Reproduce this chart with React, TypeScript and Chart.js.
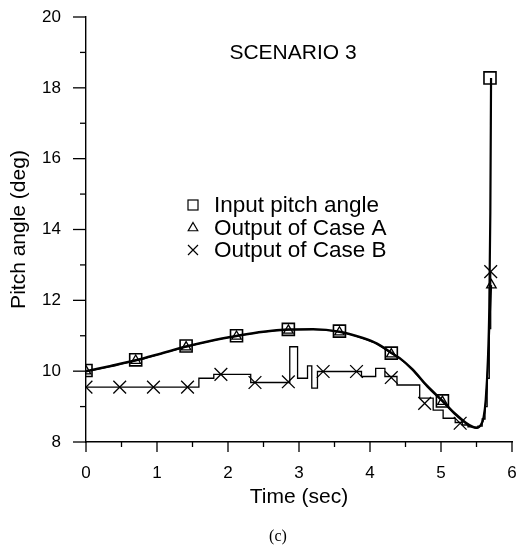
import React, { useEffect, useRef } from 'react';
import { Chart, registerables } from 'chart.js';

Chart.register(...registerables);

const SANS = '"Liberation Sans", Arial, Helvetica, sans-serif';
const SERIF = '"Liberation Serif", "Times New Roman", serif';

const chartTitle = 'SCENARIO 3';
const xAxisTitle = 'Time (sec)';
const yAxisTitle = 'Pitch angle (deg)';
const caption = '(c)';
const legendLabels = ['Input pitch angle', 'Output of Case A', 'Output of Case B'];

// Input pitch angle (smooth curve)
const inputTime = [0, 0.35, 0.7, 1.05, 1.41, 1.75, 2.12, 2.5, 2.85, 3.2, 3.57, 3.9, 4.1, 4.3, 4.42, 4.6, 4.8, 5.02, 5.2, 5.35, 5.45, 5.5, 5.56, 5.6, 5.63, 5.66, 5.68, 5.695, 5.705];
const inputValue = [10.0, 10.15, 10.31, 10.5, 10.7, 10.86, 11.0, 11.12, 11.18, 11.19, 11.12, 10.94, 10.78, 10.52, 10.37, 10.05, 9.6, 9.17, 8.8, 8.55, 8.43, 8.4, 8.48, 8.7, 9.2, 10.3, 11.8, 14.5, 18.28];

// Output of Case A (smooth curve)
const caseATime = [0, 0.35, 0.7, 1.05, 1.41, 1.75, 2.12, 2.5, 2.85, 3.2, 3.57, 3.9, 4.1, 4.3, 4.42, 4.6, 4.8, 5.02, 5.2, 5.35, 5.45, 5.5, 5.56, 5.6, 5.63, 5.66, 5.69, 5.71];
const caseAValue = [9.98, 10.13, 10.29, 10.48, 10.68, 10.84, 10.98, 11.1, 11.16, 11.17, 11.1, 10.92, 10.76, 10.5, 10.35, 10.03, 9.57, 9.14, 8.77, 8.52, 8.41, 8.39, 8.47, 8.66, 9.1, 10.1, 11.5, 12.43];

// Output of Case B (stepped)
const caseBTime = [0, 1.59, 1.8, 2.32, 2.87, 2.98, 3.12, 3.18, 3.26, 3.88, 4.08, 4.21, 4.38, 4.7, 4.89, 5.03, 5.2, 5.3, 5.38, 5.45, 5.52, 5.58, 5.62, 5.65, 5.68, 5.7];
const caseBValue = [9.55, 9.8, 9.91, 9.68, 10.69, 9.8, 10.15, 9.52, 9.99, 9.85, 10.08, 9.85, 9.61, 9.24, 8.9, 8.67, 8.55, 8.48, 8.43, 8.42, 8.45, 8.65, 9.0, 9.8, 11.2, 12.81];

// Markers
const inputMarkTime = [0, 0.7, 1.41, 2.12, 2.85, 3.57, 4.3, 5.02, 5.69];
const inputMarkValue = [10.02, 10.32, 10.71, 11.0, 11.18, 11.13, 10.51, 9.16, 18.28];
const caseAMarkTime = [0, 0.7, 1.41, 2.12, 2.85, 3.57, 4.3, 5.02, 5.71];
const caseAMarkValue = [10.0, 10.3, 10.68, 10.98, 11.15, 11.1, 10.48, 9.14, 12.43];
const caseBMarkTime = [0, 0.475, 0.95, 1.43, 1.9, 2.38, 2.85, 3.34, 3.81, 4.3, 4.77, 5.27, 5.7];
const caseBMarkValue = [9.55, 9.55, 9.55, 9.55, 9.91, 9.68, 9.7, 9.99, 9.99, 9.82, 9.09, 8.53, 12.81];

const xMin = 0, xMax = 6, xMajor = 1, xMinor = 0.5;
const yMin = 8, yMax = 20, yMajor = 2, yMinor = 1;

const pts = (t: number[], v: number[]) => t.map((x, i) => ({ x, y: v[i] }));

function drawSquare(ctx: CanvasRenderingContext2D, x: number, y: number, s: number) {
  ctx.strokeRect(x - s / 2, y - s / 2, s, s);
}
function drawTriangle(ctx: CanvasRenderingContext2D, x: number, y: number, r: number) {
  ctx.beginPath();
  for (let k = 0; k < 3; k++) {
    const a = -Math.PI / 2 + (k * 2 * Math.PI) / 3;
    const px = x + Math.cos(a) * r;
    const py = y + Math.sin(a) * r;
    if (k === 0) ctx.moveTo(px, py); else ctx.lineTo(px, py);
  }
  ctx.closePath();
  ctx.stroke();
}
function drawX(ctx: CanvasRenderingContext2D, x: number, y: number, h: number) {
  ctx.beginPath();
  ctx.moveTo(x - h, y - h); ctx.lineTo(x + h, y + h);
  ctx.moveTo(x - h, y + h); ctx.lineTo(x + h, y - h);
  ctx.stroke();
}

const decorPlugin = {
  id: 'decor',
  afterDraw(chart: any) {
    const { ctx, chartArea } = chart;
    const xs = chart.scales.x;
    const ys = chart.scales.y;
    ctx.save();
    ctx.strokeStyle = '#000';
    ctx.lineWidth = 1.3;
    for (let v = yMin; v <= yMax + 1e-9; v += yMinor) {
      const py = ys.getPixelForValue(v);
      const major = Math.abs(v / yMajor - Math.round(v / yMajor)) < 1e-6;
      const len = major ? 13 : 6;
      ctx.beginPath();
      ctx.moveTo(chartArea.left - len, py);
      ctx.lineTo(chartArea.left, py);
      ctx.stroke();
    }
    for (let t = xMin; t <= xMax + 1e-9; t += xMinor) {
      const px = xs.getPixelForValue(t);
      const major = Math.abs(t / xMajor - Math.round(t / xMajor)) < 1e-6;
      const len = major ? 10 : 5;
      ctx.beginPath();
      ctx.moveTo(px, chartArea.bottom);
      ctx.lineTo(px, chartArea.bottom + len);
      ctx.stroke();
    }

    ctx.fillStyle = '#000';
    ctx.textBaseline = 'middle';
    ctx.textAlign = 'center';
    ctx.font = `21px ${SANS}`;
    ctx.fillText(chartTitle, 293, 53);

    // legend
    const lx = 193;
    const rows = [205, 228, 250];
    ctx.lineWidth = 1.2;
    drawSquare(ctx, lx, rows[0], 10);
    drawTriangle(ctx, lx, rows[1], 5.5);
    drawX(ctx, lx, rows[2], 5);
    ctx.textAlign = 'left';
    ctx.font = `22.5px ${SANS}`;
    legendLabels.forEach((s, i) => ctx.fillText(s, lx + 21, rows[i] + 1));

    ctx.textAlign = 'center';
    ctx.font = `16px ${SERIF}`;
    ctx.fillText(caption, 278, 537);
    ctx.restore();
  },
};

export default function App() {
  const ref = useRef<HTMLCanvasElement | null>(null);
  useEffect(() => {
    if (!ref.current) return;
    const hiddenGrid = (len: number) => ({
      display: true, drawOnChartArea: false, drawTicks: true, tickLength: len,
      color: 'rgba(0,0,0,0)',
    });
    const chart = new Chart(ref.current, {
      type: 'scatter',
      data: {
        datasets: [
          {
            label: 'input-line', data: pts(inputTime, inputValue), showLine: true,
            borderColor: '#000', borderWidth: 2.2, pointRadius: 0, cubicInterpolationMode: 'monotone', fill: false,
          },
          {
            label: 'caseA-line', data: pts(caseATime, caseAValue), showLine: true,
            borderColor: '#000', borderWidth: 1.5, pointRadius: 0, cubicInterpolationMode: 'monotone', fill: false,
          },
          {
            label: 'caseB-line', data: pts(caseBTime, caseBValue), showLine: true, stepped: 'before',
            borderColor: '#000', borderWidth: 1.3, pointRadius: 0, fill: false,
          },
          {
            label: 'input-mark', data: pts(inputMarkTime, inputMarkValue), showLine: false,
            pointStyle: 'rect', pointRadius: 8.5, borderColor: '#000', borderWidth: 1.6,
            backgroundColor: 'rgba(0,0,0,0)',
          },
          {
            label: 'caseA-mark', data: pts(caseAMarkTime, caseAMarkValue), showLine: false,
            pointStyle: 'triangle', pointRadius: 5.5, borderColor: '#000', borderWidth: 1.3,
            backgroundColor: 'rgba(0,0,0,0)',
          },
          {
            label: 'caseB-mark', data: pts(caseBMarkTime, caseBMarkValue), showLine: false,
            pointStyle: 'crossRot', pointRadius: 9, borderColor: '#000', borderWidth: 1.3,
            backgroundColor: 'rgba(0,0,0,0)',
          },
        ] as any,
      },
      options: {
        responsive: false,
        animation: false,
        layout: { autoPadding: false, padding: { top: 17, right: 5, left: 7, bottom: 38 } },
        plugins: { legend: { display: false }, tooltip: { enabled: false }, title: { display: false } },
        scales: {
          x: {
            type: 'linear', min: xMin, max: xMax,
            grid: hiddenGrid(21),
            border: { display: true, color: '#000', width: 1.4 },
            ticks: { stepSize: xMajor, color: '#000', padding: 0, font: { family: SANS, size: 17 }, maxRotation: 0 },
            title: { display: true, text: xAxisTitle, color: '#000', font: { family: SANS, size: 21 }, padding: 0 },
            afterFit: (s: any) => { s.height = 68; s.paddingLeft = 0; s.paddingRight = 0; },
          },
          y: {
            type: 'linear', min: yMin, max: yMax,
            grid: hiddenGrid(25),
            border: { display: true, color: '#000', width: 1.4 },
            ticks: { stepSize: yMajor, color: '#000', padding: 0, font: { family: SANS, size: 17 } },
            title: { display: true, text: yAxisTitle, color: '#000', font: { family: SANS, size: 21 }, padding: 0 },
            afterFit: (s: any) => { s.width = 79; s.paddingTop = 0; s.paddingBottom = 0; },
          },
        },
      } as any,
      plugins: [decorPlugin],
    });
    return () => chart.destroy();
  }, []);
  return (
    <div style={{ position: 'fixed', left: 0, top: 0, width: 517, height: 548, background: '#fff' }}>
      <canvas ref={ref} width={517} height={548} style={{ width: 517, height: 548, display: 'block' }} />
    </div>
  );
}
